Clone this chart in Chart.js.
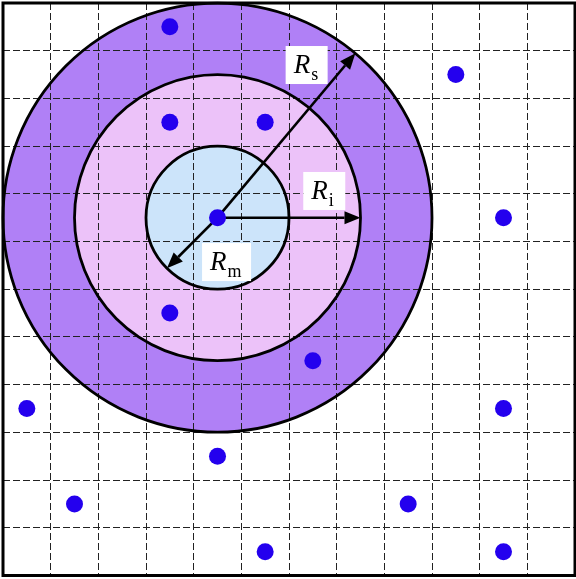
<!DOCTYPE html>
<html>
<head>
<meta charset="utf-8">
<script src="https://cdn.jsdelivr.net/npm/chart.js@4/dist/chart.umd.min.js"></script>
<style>
  html, body { margin: 0; padding: 0; background: #fff; }
  #wrap { width: 576px; height: 579px; }
</style>
</head>
<body>
<div id="wrap"><canvas id="c"></canvas></div>
<script>
// site positions (cell centres, row counted from the top)
const pointsX = [3.5, 9.5, 3.5, 5.5, 4.5, 10.5, 3.5, 6.5, 0.5, 10.5, 4.5, 1.5, 8.5, 5.5, 10.5];
const pointsY = [0.5, 1.5, 2.5, 2.5, 4.5, 4.5, 6.5, 7.5, 8.5, 8.5, 9.5, 10.5, 10.5, 11.5, 11.5];

// the three circles around the centre site
const centre = [4.5, 4.5];
const circleRadii = [4.5, 3, 1.5];
const circleColors = ['#b080f6', '#ecc2f9', '#cce4fa'];

// arrows: angle (deg, counter-clockwise on screen) and length in cells
const arrowAngles = [50, 0, 225];
const arrowLengths = [4.5, 3, 1.5];

// labels
const labelMain = ['R', 'R', 'R'];
const labelSub = ['s', 'i', 'm'];
const labelX = [6.37, 6.74, 4.69];
const labelY = [1.30, 3.94, 5.43];

const gridMax = 12;

function px(chart, x, y) {
  return [chart.scales.x.getPixelForValue(x), chart.scales.y.getPixelForValue(y)];
}

const diagram = {
  id: 'diagram',
  beforeDraw(chart) {
    const ctx = chart.ctx;
    const [cx, cy] = px(chart, centre[0], centre[1]);
    ctx.save();
    circleRadii.forEach((r, i) => {
      const rp = Math.abs(chart.scales.x.getPixelForValue(centre[0] + r) - cx);
      ctx.beginPath();
      ctx.arc(cx, cy, rp, 0, Math.PI * 2);
      ctx.fillStyle = circleColors[i];
      ctx.fill();
    });
    ctx.restore();
  },
  beforeDatasetsDraw(chart) {
    const ctx = chart.ctx;
    const [cx, cy] = px(chart, centre[0], centre[1]);
    ctx.save();
    ctx.strokeStyle = '#000';
    ctx.lineWidth = 2.8;
    circleRadii.forEach((r) => {
      const rp = Math.abs(chart.scales.x.getPixelForValue(centre[0] + r) - cx);
      ctx.beginPath();
      ctx.arc(cx, cy, rp, 0, Math.PI * 2);
      ctx.stroke();
    });
    // arrows
    arrowAngles.forEach((a, i) => {
      const t = a * Math.PI / 180;
      const [ex, ey] = px(chart, centre[0] + arrowLengths[i] * Math.cos(t), centre[1] - arrowLengths[i] * Math.sin(t));
      const ang = Math.atan2(ey - cy, ex - cx);
      const hl = 16, hw = 6.5;
      const bx = ex - hl * Math.cos(ang), by = ey - hl * Math.sin(ang);
      ctx.beginPath();
      ctx.moveTo(cx, cy);
      ctx.lineTo(bx, by);
      ctx.lineWidth = 2.6;
      ctx.stroke();
      ctx.beginPath();
      ctx.moveTo(ex, ey);
      ctx.lineTo(bx + hw * Math.sin(ang), by - hw * Math.cos(ang));
      ctx.lineTo(bx - hw * Math.sin(ang), by + hw * Math.cos(ang));
      ctx.closePath();
      ctx.fillStyle = '#000';
      ctx.fill();
    });
    ctx.restore();
  },
  afterDatasetsDraw(chart) {
    const ctx = chart.ctx;
    ctx.save();
    labelMain.forEach((m, i) => {
      const [lx, ly] = px(chart, labelX[i], labelY[i]);
      const w = i === 2 ? 49 : 42, h = 38;
      ctx.fillStyle = '#fff';
      ctx.fillRect(lx - w / 2, ly - h / 2, w, h);
      ctx.fillStyle = '#000';
      ctx.textBaseline = 'alphabetic';
      ctx.font = 'italic 27px "Liberation Serif", "DejaVu Serif", serif';
      const mw = ctx.measureText(m).width;
      const sx = lx - w / 2 + 8;
      ctx.fillText(m, sx, ly + 8);
      ctx.font = '18px "Liberation Serif", "DejaVu Serif", serif';
      ctx.fillText(labelSub[i], sx + mw + 1, ly + 15);
    });
    // frame
    const a = chart.chartArea;
    ctx.strokeStyle = '#000';
    ctx.lineWidth = 3;
    ctx.strokeRect(a.left, a.top, a.right - a.left, a.bottom - a.top);
    ctx.restore();
  }
};

const axis = (rev, horiz) => ({
  type: 'linear',
  min: 0,
  max: gridMax,
  reverse: rev,
  ticks: { display: false, stepSize: 1, padding: 0 },
  grid: { color: '#222', lineWidth: 1, drawTicks: false, tickLength: 0 },
  border: { display: false, dash: [7, 3] },
  afterFit(scale) {
    if (horiz) scale.height = 0; else scale.width = 0;
    scale.paddingLeft = scale.paddingRight = scale.paddingTop = scale.paddingBottom = 0;
  }
});

new Chart(document.getElementById('c'), {
  type: 'scatter',
  data: {
    datasets: [{
      data: pointsX.map((x, i) => ({ x: x, y: pointsY[i] })),
      pointRadius: 8.5,
      pointBackgroundColor: '#2400ee',
      pointBorderWidth: 0,
      pointHoverRadius: 8.5
    }]
  },
  options: {
    responsive: true,
    maintainAspectRatio: false,
    animation: false,
    layout: { autoPadding: false, padding: { left: 3, top: 3, right: 1, bottom: 3.5 } },
    scales: { x: axis(false, true), y: axis(true, false) },
    plugins: { legend: { display: false }, tooltip: { enabled: false } }
  },
  plugins: [diagram]
});
</script>
</body>
</html>
